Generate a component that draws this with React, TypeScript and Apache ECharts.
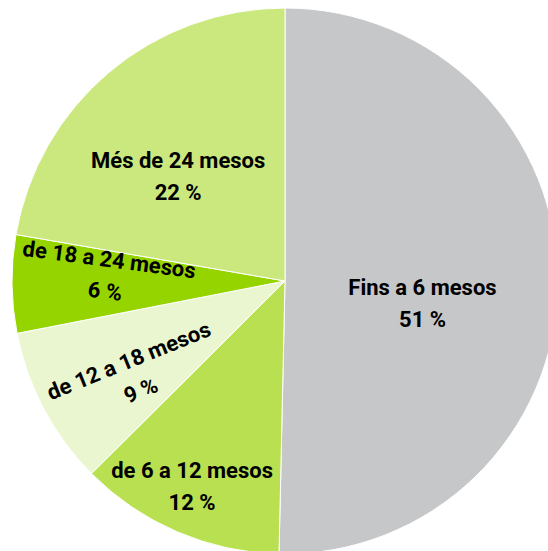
import React, { useEffect, useRef } from "react";
import * as echarts from "echarts";

const categories = [
  "Fins a 6 mesos",
  "de 6 a 12 mesos",
  "de 12 a 18 mesos",
  "de 18 a 24 mesos",
  "Més de 24 mesos",
];
const values = [50.4, 12.2, 9.4, 5.8, 22.3];
const percentLabels = ["51 %", "12 %", "9 %", "6 %", "22 %"];

const colors = ["#c6c7c9", "#b8e050", "#eaf6cf", "#96d400", "#cbe87f"];
const labelRotate = [0, 0, 22, -7.5, 0];
const labelShift: [number, number][] = [
  [-2, 21],
  [-38, 77],
  [-36, 17],
  [-39, -2],
  [-17, 2],
];

export default function App() {
  const ref = useRef<HTMLDivElement>(null);
  useEffect(() => {
    document.body.style.margin = "0";
    const chart = echarts.init(ref.current!, null, { renderer: "svg" });
    chart.setOption({
      animation: false,
      backgroundColor: "#ffffff",
      series: [
        {
          type: "pie",
          center: [285, 281],
          radius: 273,
          startAngle: 90,
          clockwise: true,
          avoidLabelOverlap: false,
          itemStyle: { borderColor: "#ffffff", borderWidth: 1 },
          label: {
            show: true,
            position: "inside",
            color: "#000000",
            fontFamily: "Roboto, 'DejaVu Sans Condensed', sans-serif",
            fontWeight: "bold",
            fontSize: 22,
            lineHeight: 32,
            align: "center",
          },
          labelLine: { show: false },
          labelLayout: (params: any) => {
            const s = labelShift[params.dataIndex] || [0, 0];
            return { dx: s[0], dy: s[1] };
          },
          emphasis: { disabled: true },
          data: categories.map((name, i) => ({
            name,
            value: values[i],
            itemStyle: { color: colors[i] },
            label: {
              rotate: labelRotate[i],
              formatter: `${name}\n${percentLabels[i]}`,
            },
          })),
        },
      ],
    });
    return () => chart.dispose();
  }, []);
  return <div ref={ref} style={{ width: 548, height: 551 }} />;
}
